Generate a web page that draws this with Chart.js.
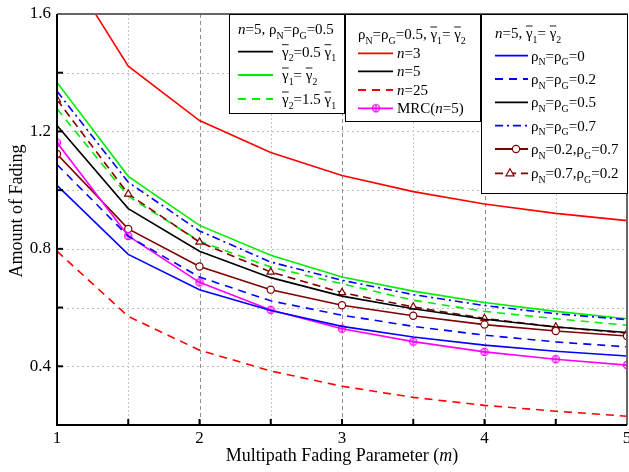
<!DOCTYPE html>
<html>
<head>
<meta charset="utf-8">
<title>Amount of Fading</title>
<script src="https://cdn.jsdelivr.net/npm/chart.js@4.4.1/dist/chart.umd.min.js"></script>
<style>
  body { margin: 0; background: #fff; }
  #wrap { width: 629px; height: 472px; }
</style>
</head>
<body>
<div id="wrap"><canvas id="fadingChart" width="629" height="472"></canvas></div>
<script>
// multipath fading parameter m
const mValues = [1, 1.5, 2, 2.5, 3, 3.5, 4, 4.5, 5];

// rho_N = rho_G = 0.5, equal average SNRs
const n3 = [1.81, 1.422, 1.237, 1.128, 1.05, 0.995, 0.953, 0.921, 0.896];
const n5 = [1.22, 0.937, 0.792, 0.702, 0.639, 0.596, 0.56, 0.534, 0.515];
const n25 = [0.792, 0.57, 0.455, 0.384, 0.332, 0.294, 0.267, 0.247, 0.23];
const mrc5 = [1.162, 0.844, 0.686, 0.592, 0.528, 0.484, 0.449, 0.424, 0.404];

// n = 5, rho = 0.5, different SNR ratios
const gEqual = [1.367, 1.047, 0.88, 0.778, 0.704, 0.656, 0.617, 0.587, 0.562];
const g15 = [1.277, 0.979, 0.826, 0.738, 0.681, 0.625, 0.587, 0.562, 0.54];

// n = 5, equal SNRs, different correlations
const rho0 = [1.016, 0.781, 0.661, 0.59, 0.536, 0.5, 0.472, 0.451, 0.435];
const rho02 = [1.087, 0.843, 0.704, 0.623, 0.574, 0.536, 0.506, 0.483, 0.466];
const rho07 = [1.337, 1.027, 0.861, 0.755, 0.693, 0.644, 0.607, 0.579, 0.559];
const rhoN02G07 = [1.123, 0.868, 0.74, 0.661, 0.608, 0.572, 0.542, 0.52, 0.503];
const rhoN07G02 = [1.308, 0.987, 0.823, 0.721, 0.651, 0.602, 0.563, 0.534, 0.513];

const yLabels = [0.4, 0.8, 1.2, 1.6];
const xLabels = [1, 2, 3, 4, 5];

const SERIF = '"Liberation Serif", "Times New Roman", serif';
const RED = '#ff0000', GREEN = '#00ee00', BLUE = '#0000ff', MAG = '#ff00ff', BROWN = '#800000';

// magenta circle-with-cross marker
const mrcMarker = (() => {
  const c = document.createElement('canvas');
  c.width = 10; c.height = 10;
  const g = c.getContext('2d');
  g.strokeStyle = MAG; g.lineWidth = 1.2;
  g.beginPath(); g.arc(5, 5, 3.6, 0, Math.PI * 2); g.stroke();
  g.beginPath(); g.moveTo(5, 1.4); g.lineTo(5, 8.6); g.moveTo(1.4, 5); g.lineTo(8.6, 5); g.stroke();
  return c;
})();

function pts(arr) {
  return arr.map((v, i) => ({ x: mValues[i], y: v }));
}

function line(data, color, dash, extra) {
  return Object.assign({
    data: pts(data),
    borderColor: color,
    backgroundColor: color,
    borderWidth: 1.6,
    borderDash: dash || [],
    pointRadius: 0,
    tension: 0,
    fill: false
  }, extra || {});
}

const datasets = [
  line(n25, RED, [8, 6]),
  line(rho0, BLUE),
  line(rho02, BLUE, [8, 6]),
  line(mrc5, MAG, [], { pointStyle: mrcMarker, pointRadius: 4 }),
  line(rhoN02G07, BROWN, [], { pointStyle: 'circle', pointRadius: 3.6, pointBackgroundColor: '#fff', pointBorderColor: BROWN, pointBorderWidth: 1.2 }),
  line(n5, '#000'),
  line(rhoN07G02, BROWN, [8, 5], { pointStyle: 'triangle', pointRadius: 4.2, pointBackgroundColor: '#fff', pointBorderColor: BROWN, pointBorderWidth: 1.2 }),
  line(g15, GREEN, [8, 6]),
  line(rho07, BLUE, [8, 4, 2, 4]),
  line(gEqual, GREEN),
  line(n3, RED)
];

// text with italic / subscript / overbar pieces: [text, flags]
function drawRich(ctx, parts, x, y, size) {
  ctx.textAlign = 'left';
  ctx.textBaseline = 'alphabetic';
  ctx.fillStyle = '#000';
  parts.forEach(([t, f = '']) => {
    const sub = f.includes('s');
    const fs = sub ? size * 0.66 : size;
    ctx.font = (f.includes('i') ? 'italic ' : '') + fs + 'px ' + SERIF;
    const dy = sub ? size * 0.3 : 0;
    ctx.fillText(t, x, y + dy);
    const w = ctx.measureText(t).width;
    if (f.includes('b')) {
      ctx.save();
      ctx.strokeStyle = '#000';
      ctx.lineWidth = 0.9;
      ctx.beginPath();
      ctx.moveTo(x, y - size * 0.8);
      ctx.lineTo(x + w, y - size * 0.8);
      ctx.stroke();
      ctx.restore();
    }
    x += w;
  });
}

const gBar = (i) => [['γ', 'b'], [String(i), 's']];
const rhoEq = (v) => [['ρ'], ['N', 's'], ['=ρ'], ['G', 's'], ['=' + v]];
const rhoPair = (a, b) => [['ρ'], ['N', 's'], ['=' + a + ',ρ'], ['G', 's'], ['=' + b]];

const legends = [
  {
    box: [229, 14, 345, 114],
    title: { parts: [['n', 'i'], ['=5, '], ...rhoEq('0.5')], x: 238, y: 34 },
    lineX: [238, 273], textX: 282,
    rows: [
      { y: 51.7, color: '#000', parts: [...gBar(2), ['=0.5 '], ...gBar(1)] },
      { y: 75, color: GREEN, parts: [...gBar(1), ['= '], ...gBar(2)] },
      { y: 99, color: GREEN, dash: [8, 6], parts: [...gBar(2), ['=1.5 '], ...gBar(1)] }
    ]
  },
  {
    box: [345, 14, 481, 122],
    title: { parts: [...rhoEq('0.5, '), ...gBar(1), ['= '], ...gBar(2)], x: 358, y: 39 },
    lineX: [358, 393], textX: 397,
    rows: [
      { y: 53.3, color: RED, parts: [['n', 'i'], ['=3']] },
      { y: 71.3, color: '#000', parts: [['n', 'i'], ['=5']] },
      { y: 90, color: RED, dash: [8, 6], parts: [['n', 'i'], ['=25']] },
      { y: 108.3, color: MAG, marker: 'mrc', markerX: 376, parts: [['MRC('], ['n', 'i'], ['=5)']] }
    ]
  },
  {
    box: [481, 14, 628, 194],
    title: { parts: [['n', 'i'], ['=5, '], ...gBar(1), ['= '], ...gBar(2)], x: 495, y: 38 },
    lineX: [495, 528], textX: 531,
    rows: [
      { y: 55.7, color: BLUE, parts: rhoEq('0') },
      { y: 79, color: BLUE, dash: [8, 6], parts: rhoEq('0.2') },
      { y: 102.3, color: '#000', parts: rhoEq('0.5') },
      { y: 125.7, color: BLUE, dash: [8, 4, 2, 4], parts: rhoEq('0.7') },
      { y: 149, color: BROWN, marker: 'circle', markerX: 516, parts: rhoPair('0.2', '0.7') },
      { y: 173.3, color: BROWN, dash: [8, 5], marker: 'triangle', markerX: 510, parts: rhoPair('0.7', '0.2') }
    ]
  }
];

function drawMarker(ctx, kind, x, y) {
  ctx.save();
  ctx.setLineDash([]);
  ctx.lineWidth = 1.2;
  if (kind === 'mrc') {
    ctx.drawImage(mrcMarker, x - 5, y - 5);
  } else if (kind === 'circle') {
    ctx.fillStyle = '#fff'; ctx.strokeStyle = BROWN;
    ctx.beginPath(); ctx.arc(x, y, 3.6, 0, Math.PI * 2); ctx.fill(); ctx.stroke();
  } else if (kind === 'triangle') {
    ctx.fillStyle = '#fff'; ctx.strokeStyle = BROWN;
    ctx.beginPath(); ctx.moveTo(x, y - 4.5); ctx.lineTo(x + 4, y + 2.5); ctx.lineTo(x - 4, y + 2.5); ctx.closePath();
    ctx.fill(); ctx.stroke();
  }
  ctx.restore();
}

const framePlugin = {
  id: 'frame',
  beforeDatasetsDraw(chart) {
    const { ctx, chartArea: a, scales: { x, y } } = chart;
    ctx.save();
    ctx.lineWidth = 1;
    // horizontal grid
    ctx.strokeStyle = '#bdbdbd';
    ctx.setLineDash([2, 3]);
    for (let v = 0.4; v < 1.55; v += 0.2) {
      const py = Math.round(y.getPixelForValue(v)) + 0.5;
      ctx.beginPath(); ctx.moveTo(a.left, py); ctx.lineTo(a.right, py); ctx.stroke();
    }
    // vertical grid: dashed on whole m, dotted on halves
    for (let m = 1.5; m < 5; m += 0.5) {
      const px = Math.round(x.getPixelForValue(m)) + 0.5;
      const whole = Number.isInteger(m);
      ctx.strokeStyle = whole ? '#8c8c8c' : '#c8c8c8';
      ctx.setLineDash(whole ? [4, 3] : [2, 2]);
      ctx.beginPath(); ctx.moveTo(px, a.top); ctx.lineTo(px, a.bottom); ctx.stroke();
    }
    ctx.restore();
  },
  afterDatasetsDraw(chart) {
    const { ctx, chartArea: a, scales: { x, y } } = chart;
    ctx.save();
    ctx.setLineDash([]);
    // top and right frame
    ctx.strokeStyle = '#666';
    ctx.lineWidth = 2;
    ctx.beginPath(); ctx.moveTo(a.left, a.top); ctx.lineTo(a.right, a.top); ctx.lineTo(a.right, a.bottom); ctx.stroke();
    // axes
    ctx.strokeStyle = '#000';
    ctx.beginPath(); ctx.moveTo(a.left, a.top); ctx.lineTo(a.left, a.bottom); ctx.lineTo(a.right, a.bottom); ctx.stroke();
    // inward ticks
    ctx.lineWidth = 2;
    for (let v = 0.4; v < 1.55; v += 0.2) {
      const py = y.getPixelForValue(v);
      ctx.beginPath(); ctx.moveTo(a.left, py); ctx.lineTo(a.left + 6, py); ctx.stroke();
    }
    for (let m = 1.5; m < 5; m += 0.5) {
      const px = x.getPixelForValue(m);
      ctx.beginPath(); ctx.moveTo(px, a.bottom); ctx.lineTo(px, a.bottom - 6); ctx.stroke();
    }
    ctx.restore();
  },
  afterDraw(chart) {
    const { ctx } = chart;
    ctx.save();
    // axis titles
    ctx.fillStyle = '#000';
    ctx.font = '18px ' + SERIF;
    ctx.textAlign = 'center';
    ctx.textBaseline = 'middle';
    ctx.translate(17, 211);
    ctx.rotate(-Math.PI / 2);
    ctx.fillText('Amount of Fading', 0, 0);
    ctx.setTransform(1, 0, 0, 1, 0, 0);
    const xt = [['Multipath Fading Parameter ('], ['m', 'i'], [')']];
    let w = 0;
    xt.forEach(([t, f]) => {
      ctx.font = (f ? 'italic ' : '') + '18px ' + SERIF;
      w += ctx.measureText(t).width;
    });
    drawRich(ctx, xt, 342 - w / 2, 461, 18);

    // legend boxes
    legends.forEach(lg => {
      const [x0, y0, x1, y1] = lg.box;
      ctx.fillStyle = '#fff';
      ctx.fillRect(x0, y0, x1 - x0, y1 - y0);
      ctx.strokeStyle = '#000';
      ctx.lineWidth = 1;
      ctx.setLineDash([]);
      ctx.strokeRect(x0 + 0.5, y0 + 0.5, x1 - x0 - 1, y1 - y0 - 1);
      drawRich(ctx, lg.title.parts, lg.title.x, lg.title.y, 15);
      lg.rows.forEach(r => {
        ctx.save();
        ctx.strokeStyle = r.color;
        ctx.lineWidth = 1.8;
        ctx.setLineDash(r.dash || []);
        ctx.beginPath(); ctx.moveTo(lg.lineX[0], r.y); ctx.lineTo(lg.lineX[1], r.y); ctx.stroke();
        ctx.restore();
        if (r.marker) drawMarker(ctx, r.marker, r.markerX, r.y);
        drawRich(ctx, r.parts, lg.textX, r.y + 5, 15);
      });
    });
    ctx.restore();
  }
};

new Chart(document.getElementById('fadingChart'), {
  type: 'line',
  data: { datasets },
  options: {
    responsive: false,
    animation: false,
    devicePixelRatio: 1,
    layout: { padding: { top: 14, right: 2, left: 0, bottom: 0 }, autoPadding: false },
    plugins: { legend: { display: false }, tooltip: { enabled: false } },
    scales: {
      x: {
        type: 'linear',
        min: 1, max: 5,
        grid: { display: false, drawTicks: false },
        border: { display: false },
        ticks: {
          stepSize: 0.5,
          padding: 3,
          color: '#000',
          font: { family: SERIF, size: 17 },
          maxRotation: 0,
          autoSkip: false,
          callback: v => xLabels.includes(v) ? String(v) : ''
        },
        afterFit(s) { s.height = 47; s.paddingLeft = 0; s.paddingRight = 0; }
      },
      y: {
        type: 'linear',
        min: 0.2, max: 1.6,
        grid: { display: false, drawTicks: false },
        border: { display: false },
        ticks: {
          stepSize: 0.2,
          padding: 6,
          color: '#000',
          font: { family: SERIF, size: 17 },
          autoSkip: false,
          callback: v => yLabels.some(l => Math.abs(l - v) < 1e-6) ? v.toFixed(1) : ''
        },
        afterFit(s) { s.width = 57; s.paddingTop = 0; s.paddingBottom = 0; }
      }
    }
  },
  plugins: [framePlugin]
});
</script>
</body>
</html>
